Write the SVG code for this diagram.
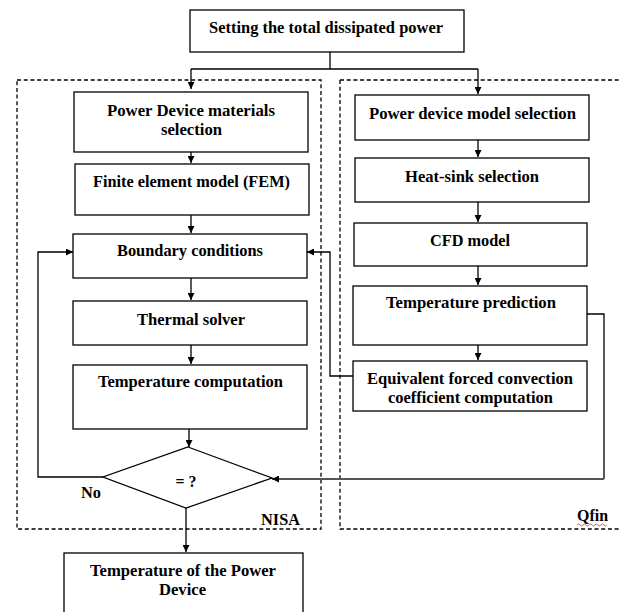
<svg xmlns="http://www.w3.org/2000/svg" width="619" height="612" viewBox="0 0 619 612">
<style>
.box{fill:#fff;stroke:#000;stroke-width:1.3}
.grp{fill:none;stroke:#000;stroke-width:1.3;stroke-dasharray:4 2.7}
.ln{fill:none;stroke:#000;stroke-width:1.3}
.ln2{fill:none;stroke:#555;stroke-width:1.8}
text{font-family:"Liberation Serif","Times New Roman",serif;font-weight:bold;font-size:16px;fill:#000;text-anchor:middle}
</style>
<defs>
<marker id="ah" viewBox="0 0 10 10" refX="10" refY="5" markerWidth="7" markerHeight="7" markerUnits="userSpaceOnUse" orient="auto">
<path d="M0,0 L10,5 L0,10 z" fill="#000"/>
</marker>
</defs>
<rect width="619" height="612" fill="#fff"/>
<g id="groups">
<rect id="nisa" class="grp" x="17" y="80" width="304" height="449"/>
<rect id="qfin" class="grp" x="340" y="80" width="290" height="449"/>
<text x="280.5" y="525" textLength="39" lengthAdjust="spacingAndGlyphs">NISA</text>
<text x="592.5" y="521" textLength="31" lengthAdjust="spacingAndGlyphs">Qfin</text>
<path d="M577,525 q1.5,-2 3,0 t3,0 t3,0 t3,0 t3,0 t3,0 t3,0 t3,0 t3,0 t3,0" fill="none" stroke="#e03030" stroke-width="0.8"/>
</g>
<g id="connectors">
<path class="ln" d="M330,52 V69"/>
<path class="ln" d="M191,69 H478"/>
<path class="ln" d="M191,69 V89" marker-end="url(#ah)"/>
<path class="ln" d="M478,69 V94" marker-end="url(#ah)"/>
<path class="ln" d="M191,152 V163" marker-end="url(#ah)"/>
<path class="ln" d="M191,215 V233" marker-end="url(#ah)"/>
<path class="ln" d="M191,278 V300" marker-end="url(#ah)"/>
<path class="ln" d="M191,345 V364" marker-end="url(#ah)"/>
<path class="ln" d="M189,429 V447" marker-end="url(#ah)"/>
<path class="ln" d="M478,140 V157" marker-end="url(#ah)"/>
<path class="ln" d="M478,202 V222" marker-end="url(#ah)"/>
<path class="ln" d="M478,266 V285" marker-end="url(#ah)"/>
<path class="ln" d="M478,345 V360" marker-end="url(#ah)"/>
<path class="ln" d="M103,477 H38 V252 H73" marker-end="url(#ah)"/>
<path class="ln" d="M353,376 H330 V252 H307" marker-end="url(#ah)"/>
<path class="ln" d="M587,314 H604 V479"/>
<path class="ln2" d="M604,479 H272" marker-end="url(#ah)"/>
<path class="ln" d="M186,508 V552" marker-end="url(#ah)"/>
</g>
<g id="n-setting">
<rect class="box" x="190" y="10" width="274" height="42"/>
<text x="326" y="33" textLength="234" lengthAdjust="spacingAndGlyphs">Setting the total dissipated power</text>
</g>
<g id="n-materials">
<rect class="box" x="74" y="92" width="234" height="60"/>
<text x="191" y="116" textLength="168" lengthAdjust="spacingAndGlyphs">Power Device materials</text>
<text x="191.5" y="135" textLength="61" lengthAdjust="spacingAndGlyphs">selection</text>
</g>
<g id="n-fem">
<rect class="box" x="75" y="164" width="234" height="51"/>
<text x="191.5" y="187" textLength="197" lengthAdjust="spacingAndGlyphs">Finite element model (FEM)</text>
</g>
<g id="n-boundary">
<rect class="box" x="73" y="234" width="234" height="44"/>
<text x="190" y="256" textLength="146" lengthAdjust="spacingAndGlyphs">Boundary conditions</text>
</g>
<g id="n-solver">
<rect class="box" x="73" y="301" width="234" height="44"/>
<text x="191" y="325" textLength="108" lengthAdjust="spacingAndGlyphs">Thermal solver</text>
</g>
<g id="n-tempcomp">
<rect class="box" x="73" y="365" width="234" height="64"/>
<text x="190.5" y="387" textLength="185" lengthAdjust="spacingAndGlyphs">Temperature computation</text>
</g>
<g id="n-decision">
<polygon class="box" points="188,447 272,478 186,508 103,477"/>
<text x="186" y="487" textLength="21" lengthAdjust="spacingAndGlyphs">= ?</text>
<text x="91" y="498" textLength="20" lengthAdjust="spacingAndGlyphs">No</text>
</g>
<g id="n-result">
<rect class="box" x="64" y="553" width="239" height="70"/>
<text x="183" y="576" textLength="186" lengthAdjust="spacingAndGlyphs">Temperature of the Power</text>
<text x="182.5" y="595" textLength="47" lengthAdjust="spacingAndGlyphs">Device</text>
</g>
<g id="n-model">
<rect class="box" x="355" y="95" width="234" height="45"/>
<text x="472.5" y="119" textLength="207" lengthAdjust="spacingAndGlyphs">Power device model selection</text>
</g>
<g id="n-heatsink">
<rect class="box" x="355" y="158" width="234" height="44"/>
<text x="472" y="182" textLength="134" lengthAdjust="spacingAndGlyphs">Heat-sink selection</text>
</g>
<g id="n-cfd">
<rect class="box" x="354" y="223" width="233" height="43"/>
<text x="470" y="246" textLength="80" lengthAdjust="spacingAndGlyphs">CFD model</text>
</g>
<g id="n-prediction">
<rect class="box" x="353" y="286" width="234" height="59"/>
<text x="471" y="308" textLength="170" lengthAdjust="spacingAndGlyphs">Temperature prediction</text>
</g>
<g id="n-equivalent">
<rect class="box" x="353" y="361" width="234" height="50"/>
<text x="470" y="384" textLength="206" lengthAdjust="spacingAndGlyphs">Equivalent forced convection</text>
<text x="470.5" y="403" textLength="165" lengthAdjust="spacingAndGlyphs">coefficient computation</text>
</g>
</svg>
